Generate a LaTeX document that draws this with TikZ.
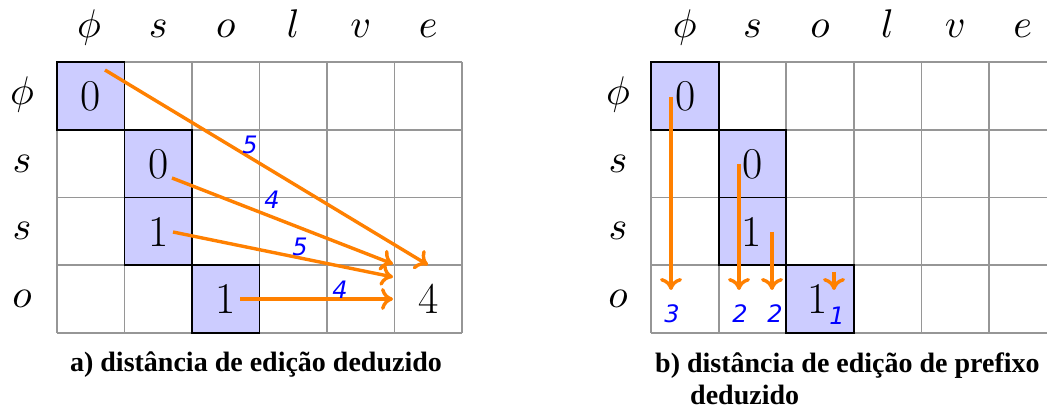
\documentclass[tikz,border=0pt]{standalone}
\usepackage{graphicx}
\usepackage{fontspec}
\newfontfamily\capfont{Liberation Serif}
\newfontfamily\lblfont{DejaVu Sans}
\usetikzlibrary{arrows.meta}
\definecolor{arrorange}{RGB}{255,128,0}
\definecolor{cellblue}{RGB}{204,204,255}
\definecolor{gridgray}{RGB}{150,150,150}
\newcommand{\hugemath}[1]{\scalebox{4}{$#1$}}
\tikzset{
  hdr/.style={anchor=base, inner sep=0pt},
  num/.style={font=\fontsize{44}{48}\selectfont, inner sep=0pt},
  lbl/.style={text=blue, font=\lblfont\itshape\fontsize{24}{26}\selectfont, inner sep=0pt},
  arr/.style={draw=arrorange, line width=3.4pt, -{To[length=12pt,width=22pt]}},
  captext/.style={font=\capfont\bfseries\fontsize{28}{32}\selectfont, inner sep=0pt},
  gridline/.style={draw=gridgray, line width=1.8pt},
  hl/.style={draw=black, line width=1.8pt, fill=cellblue},
}
\begin{document}
\begin{tikzpicture}[x=1pt,y=-1pt]
\useasboundingbox (0,0) rectangle (1047,411);
\fill[white] (0,0) rectangle (1047,411);
\clip (0,0) rectangle (1047,411);
% ---------- grid a ----------
\def\Lx{57}\def\Ly{62}\def\Lw{67.5}\def\Lh{67.75}
\foreach \r/\c in {0/0,1/1,2/1,3/2}
  \fill[cellblue] ({\Lx+\c*\Lw},{\Ly+\r*\Lh}) rectangle ++(\Lw,\Lh);
\foreach \i in {0,...,6}
  \draw[gridline] ({\Lx+\i*\Lw},\Ly) -- ({\Lx+\i*\Lw},{\Ly+4*\Lh});
\foreach \j in {0,...,4}
  \draw[gridline] (\Lx,{\Ly+\j*\Lh}) -- ({\Lx+6*\Lw},{\Ly+\j*\Lh});
\foreach \r/\c in {0/0,1/1,2/1,3/2}
  \draw[hl,fill=none] ({\Lx+\c*\Lw},{\Ly+\r*\Lh}) rectangle ++(\Lw,\Lh);
% headers a
\node[hdr] (ha0) at (89,38) {\hugemath{\phi}};
\node[hdr] (ha1) at (158.25,38) {\hugemath{s}};
\node[hdr] (ha2) at (225.75,38) {\hugemath{o}};
\node[hdr] (ha3) at (293.25,38) {\hugemath{l}};
\node[hdr] (ha4) at (360.75,38) {\hugemath{v}};
\node[hdr] (ha5) at (428.25,38) {\hugemath{e}};
\node[hdr] (ra0) at (22,104.5) {\hugemath{\phi}};
\node[hdr] (ra1) at (22,172.5) {\hugemath{s}};
\node[hdr] (ra2) at (22,240) {\hugemath{s}};
\node[hdr] (ra3) at (22,308) {\hugemath{o}};
% numbers a
\node[num] (a00) at (90.75,96) {0};
\node[num] (a11) at (158.25,164) {0};
\node[num] (a21) at (158.25,231.5) {1};
\node[num] (a32) at (225.75,299) {1};
\node[num] (a35) at (428.25,299) {4};
% arrows a
\coordinate (sa1) at (105,70);
\coordinate (ea1) at (428,265);
\coordinate (sa2) at (172,178);
\coordinate (ea2) at (393,264);
\coordinate (sa3) at (173,232);
\coordinate (ea3) at (393,277);
\coordinate (sa4) at (240,299);
\coordinate (ea4) at (393,299);
\draw[arr] (sa1) -- (ea1);
\draw[arr] (sa2) -- (ea2);
\draw[arr] (sa3) -- (ea3);
\draw[arr] (sa4) -- (ea4);
\node[lbl] (la1) at (250,145) {5};
\node[lbl] (la2) at (272,200) {4};
\node[lbl] (la3) at (300,247) {5};
\node[lbl] (la4) at (340,290) {4};
\node[captext, anchor=base] (capa) at (256,372) {a) distância de edição deduzido};
% ---------- grid b ----------
\def\Rx{651}\def\Rw{67.6}
\foreach \r/\c in {0/0,1/1,2/1,3/2}
  \fill[cellblue] ({\Rx+\c*\Rw},{\Ly+\r*\Lh}) rectangle ++(\Rw,\Lh);
\foreach \i in {0,...,6}
  \draw[gridline] ({\Rx+\i*\Rw},\Ly) -- ({\Rx+\i*\Rw},{\Ly+4*\Lh});
\foreach \j in {0,...,4}
  \draw[gridline] (\Rx,{\Ly+\j*\Lh}) -- ({\Rx+6*\Rw},{\Ly+\j*\Lh});
\foreach \r/\c in {0/0,1/1,2/1,3/2}
  \draw[hl,fill=none] ({\Rx+\c*\Rw},{\Ly+\r*\Lh}) rectangle ++(\Rw,\Lh);
% headers b
\node[hdr] (hb0) at (684.8,38) {\hugemath{\phi}};
\node[hdr] (hb1) at (752.4,38) {\hugemath{s}};
\node[hdr] (hb2) at (820,38) {\hugemath{o}};
\node[hdr] (hb3) at (887.6,38) {\hugemath{l}};
\node[hdr] (hb4) at (955.2,38) {\hugemath{v}};
\node[hdr] (hb5) at (1022.8,38) {\hugemath{e}};
\node[hdr] (rb0) at (618,104.5) {\hugemath{\phi}};
\node[hdr] (rb1) at (618,172.5) {\hugemath{s}};
\node[hdr] (rb2) at (618,240) {\hugemath{s}};
\node[hdr] (rb3) at (618,308) {\hugemath{o}};
% numbers b
\node[num] (b00) at (686,96) {0};
\node[num] (b11) at (753,164) {0};
\node[num] (b21) at (752,231.5) {1};
\node[num] (b32) at (818,299) {1};
% arrows b
\coordinate (sb1) at (671,97);
\coordinate (eb1) at (671,290);
\coordinate (sb2) at (739,164);
\coordinate (eb2) at (739,290);
\coordinate (sb3) at (772,232);
\coordinate (eb3) at (772,290);
\coordinate (sb4) at (834,272);
\coordinate (eb4) at (834,290);
\draw[arr] (sb1) -- (eb1);
\draw[arr] (sb2) -- (eb2);
\draw[arr] (sb3) -- (eb3);
\draw[arr] (sb4) -- (eb4);
\node[lbl] (lb1) at (672,314) {3};
\node[lbl] (lb2) at (740,314) {2};
\node[lbl] (lb3) at (775,314) {2};
\node[lbl] (lb4) at (837,316) {1};
\node[captext, anchor=base west] (capb1) at (655,373) {b) distância de edição de prefixo};
\node[captext, anchor=base west] (capb2) at (690,405) {deduzido};
\end{tikzpicture}
\end{document}
